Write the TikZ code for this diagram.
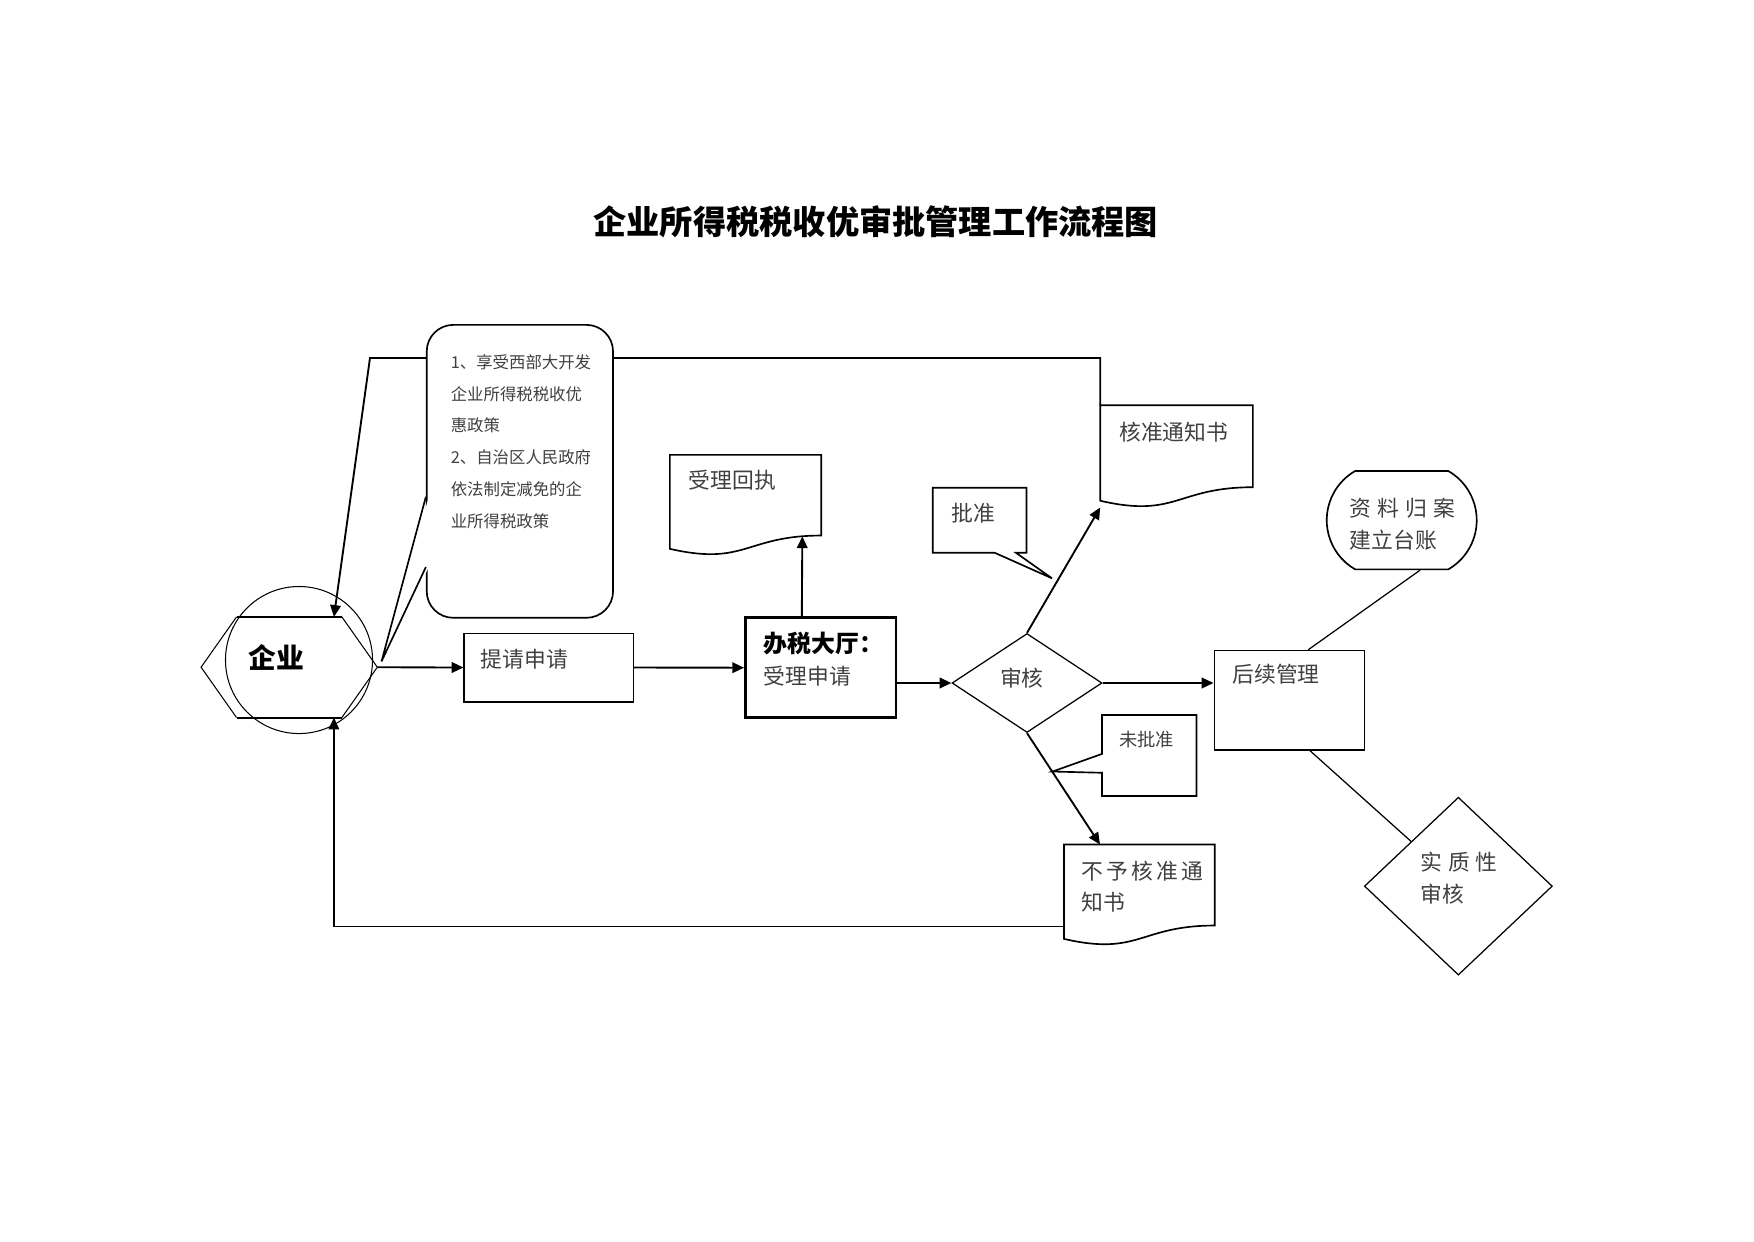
\documentclass[tikz,border=0pt]{standalone}
\usepackage{fontspec}
\setmainfont{Noto Sans CJK SC}
\usetikzlibrary{positioning,calc,arrows.meta,shapes.geometric,shapes.callouts,shapes.misc}

\begin{document}
\begin{tikzpicture}[x=1mm, y=-1mm, line width=0.8pt,
        font=\fontsize{10.5}{15.4}\selectfont,
        box/.style={draw, rectangle, inner sep=0pt},
        doc/.style={rectangle, inner sep=0pt},
        txt/.style={anchor=west, inner sep=0pt, text=black!75, align=left},
        arr/.style={-{Triangle[length=2mm,width=1.8mm]}, line width=0.9pt},
        link/.style={line width=0.6pt},
        note/.style={rectangle callout, draw, fill=white, inner sep=0pt}]
        \useasboundingbox (0,0) rectangle (297,210.14);

        \node[font=\fontsize{16}{18}\selectfont\bfseries] (title) at (148.3,37.5) {企业所得税税收优审批管理工作流程图};

        % enterprise
        \node[circle, draw, line width=0.5pt, minimum size=24.9mm] (ring) at (50.63,111.76) {};
        \node[rectangle, inner sep=0pt, minimum width=17.56mm, minimum height=16.76mm] (qiye) at (48.97,112.98) {};
        \draw[line width=0.5pt] (qiye.north east) -- ([xshift=6mm]qiye.east) -- (qiye.south east);
        \draw[line width=0.5pt] (qiye.north west) -- ([xshift=-6mm]qiye.west) -- (qiye.south west);
        \draw[line width=1pt] (qiye.north west) -- (qiye.north east) (qiye.south west) -- (qiye.south east);
        \node[txt, text=black, font=\fontsize{13.4}{16}\selectfont\bfseries] (qiyetxt) at (42,111.4) {企业};

        % boxes
        \node[box, minimum width=28.62mm, minimum height=11.58mm] (tiqing) at (92.93,113.03) {};
        \node[txt] (tiqingtxt) at (81.28,111.59) {提请申请};
        \node[box, line width=1.3pt, minimum width=25.5mm, minimum height=16.93mm] (dating) at (138.97,113.06) {};
        \node[txt] (datingtxt) at (129.17,111.59) {{\color{black}\bfseries\fontsize{11.5}{15.4}\selectfont 办税大厅：}\\受理申请};
        \node[box, minimum width=25.4mm, minimum height=16.81mm] (houxu) at (218.32,118.57) {};
        \node[txt] (houxutxt) at (208.57,114.21) {后续管理};

        % documents
        \node[doc, minimum width=25.35mm, minimum height=16.75mm] (huizhi) at (126.24,85.54) {};
        \node[txt] (huizhitxt) at (116.5,81.28) {受理回执};
        \node[doc, minimum width=25.57mm, minimum height=17.04mm] (hezhun) at (199.22,77.27) {};
        \node[txt] (hezhuntxt) at (189.4,73.1) {核准通知书};
        \node[doc, minimum width=25.26mm, minimum height=16.83mm] (buyu) at (192.93,151.55) {};
        \node[txt, font=\fontsize{10.5}{14.9}\selectfont] (buyutxt) at (182.98,150.06) {\makebox[19.9mm][s]{不 予 核 准 通}\\知书};
        \foreach \d in {huizhi,hezhun,buyu}
            \draw (\d.north west) -- (\d.north east) -- ($(\d.north east)!0.802!(\d.south east)$)
                .. controls ($(\d.north)!0.802!(\d.south)$) and ($(\d.north)!1.107!(\d.south)$)
                .. ($(\d.north west)!0.934!(\d.south west)$) -- cycle;

        % decisions
        \node[diamond, draw, line width=0.6pt, inner sep=0pt, minimum width=25.4mm, minimum height=16.76mm] (shenhe) at (173.9,115.65) {};
        \node[txt] (shenhetxt) at (169.2,114.8) {审核};
        \node[diamond, draw, line width=0.6pt, inner sep=0pt, minimum width=31.83mm, minimum height=30.11mm] (shizhi) at (246.94,150.05) {};
        \node[txt, font=\fontsize{10.5}{15.2}\selectfont] (shizhitxt) at (240.45,148.65) {\makebox[13mm][s]{实 质 性}\\审核};
        \node[rounded rectangle, rounded rectangle arc length=120, draw, inner sep=0pt, minimum width=25.4mm, minimum height=16.65mm] (ziliao) at (237.35,88.08) {};
        \node[txt, font=\fontsize{10.5}{15.7}\selectfont] (ziliaotxt) at (228.43,88.76) {\makebox[17.9mm][s]{资 料 归 案}\\建立台账};

        % return lines
        \coordinate (topleft) at (62.65,60.62);
        \draw[arr] (hezhun.north west) |- (topleft) -- ([xshift=-1.35mm]qiye.north east);
        \draw[arr, line width=0.6pt] ($(buyu.north west)!0.81!(buyu.south west)$) -| ([xshift=-1.35mm]qiye.south east);

        % policy callout
        \node[draw, fill=white, rounded corners=4.5mm, inner sep=0pt, minimum width=31.55mm, minimum height=49.6mm] (zhengce) at (88.03,79.81) {};
        \coordinate (zctip) at (64.6,112.0);
        \fill[white] ([yshift=-4.3mm, xshift=0.5mm]zhengce.west) -- (zctip) -- ([yshift=-16.2mm, xshift=0.5mm]zhengce.west) -- cycle;
        \draw ([yshift=-4.3mm]zhengce.west) -- (zctip) -- ([yshift=-16.2mm]zhengce.west);
        \node[txt, font=\fontsize{7.9}{15.4}\selectfont] (zhengcetxt) at (76.2,74.79) {1、享受西部大开发\\企业所得税税收优\\惠政策\\2、自治区人民政府\\依法制定减免的企\\业所得税政策};

        % small callouts
        \coordinate (pztip) at (178.14,97.93);
        \coordinate (wpztip) at (178.22,130.64);
        \node[note, minimum width=15.87mm, minimum height=11.0mm, callout absolute pointer=(pztip), callout pointer width=3.6mm] (pizhun) at (165.88,88.09) {};
        \node[txt] (pizhuntxt) at (160.96,86.82) {批准};
        \node[note, minimum width=15.98mm, minimum height=13.72mm, callout absolute pointer=(wpztip), callout pointer width=3.2mm] (weipizhun) at (194.6,127.93) {};
        \node[txt, font=\fontsize{8.8}{11}\selectfont] (weipizhuntxt) at (189.4,125.3) {未批准};

        % flow
        \draw[arr] ([xshift=6mm]qiye.east) -- (tiqing.west);
        \draw[arr] (tiqing.east) -- (dating.west);
        \draw[arr] ([xshift=-3.2mm]dating.north) -- ($(huizhi.north east)!0.81!(huizhi.south east)+(-3.2,0)$);
        \draw[arr] (dating.east |- shenhe.west) -- (shenhe.west);
        \draw[arr] (shenhe.north) -- (hezhun.south west);
        \draw[arr] (shenhe.east) -- (shenhe.east -| houxu.west);
        \draw[arr] (shenhe.south) -- ([xshift=6.1mm]buyu.north west);
        \draw[link] ([xshift=3.2mm]houxu.north) -- ([xshift=3.1mm]ziliao.south);
        \draw[link] ([xshift=3.5mm]houxu.south) -- (shizhi.north west);
    \end{tikzpicture}
\end{document}
